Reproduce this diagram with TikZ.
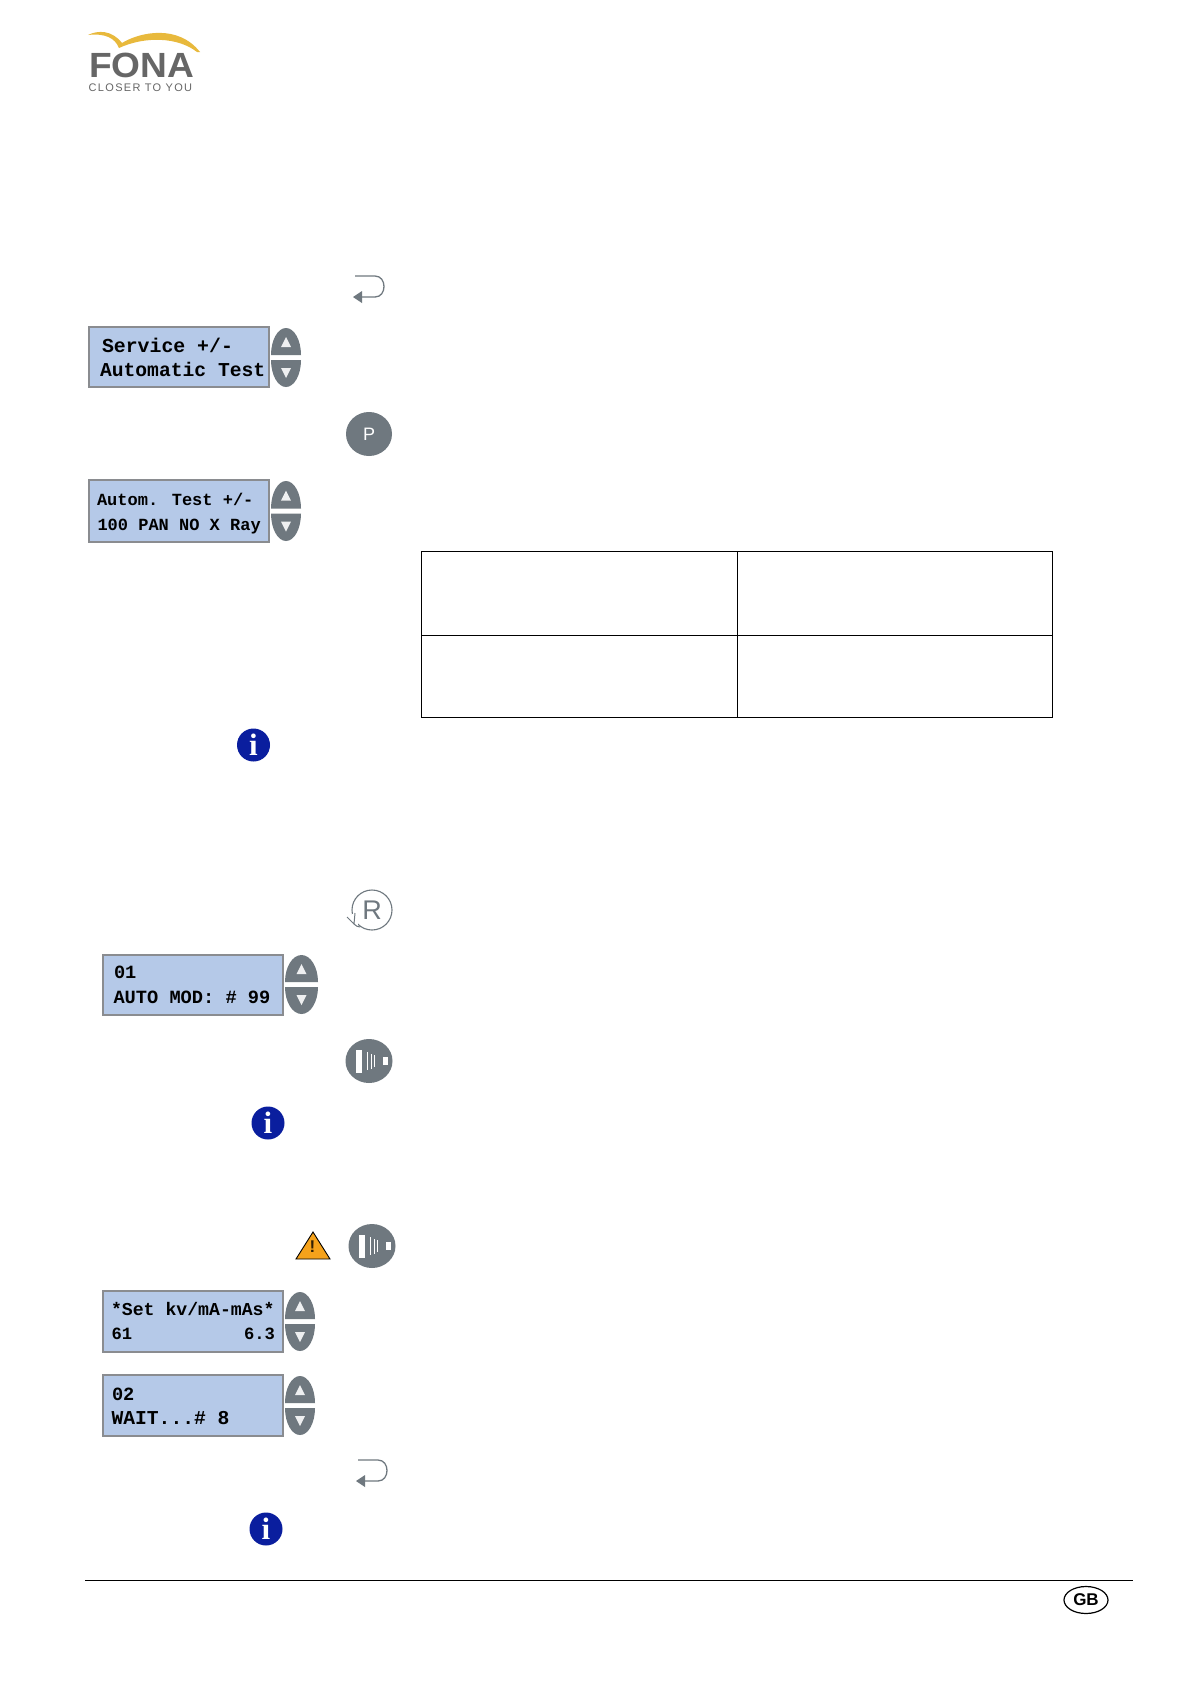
\documentclass[tikz,border=0pt]{standalone}
\usepackage{fontspec}
\setmainfont{Liberation Sans}
\newfontfamily\lcdfont{Liberation Mono}[BoldFont={Liberation Mono Bold}]
\newfontfamily\spacedfont{Liberation Sans}[LetterSpace=12]
\newfontfamily\infofont{Liberation Serif}
\definecolor{lcdfill}{HTML}{B5C9E8}
\definecolor{lcdedge}{HTML}{8A8C90}
\definecolor{btn}{HTML}{6F787F}
\definecolor{infoblue}{HTML}{0A1E9E}
\definecolor{swoosh}{HTML}{E8B93C}
\definecolor{logogray}{HTML}{666666}
\definecolor{warn}{HTML}{F5A21B}
\tikzset{
  lcdbox/.style={fill=lcdfill,draw=lcdedge,line width=1.8pt,inner sep=0pt,outer sep=0pt},
  lcdtext/.style={anchor=base west,inner sep=0pt,outer sep=0pt,text=black,font=\lcdfont\bfseries},
  iconline/.style={draw=btn,line width=1.3pt},
  roundbtn/.style={ellipse,fill=btn,inner sep=0pt,outer sep=0pt},
  infobadge/.style={circle,fill=infoblue,inner sep=0pt,outer sep=0pt,minimum size=33pt,text=white},
}
\usetikzlibrary{shapes.geometric}
\newcommand\lcdpanel[5]{\node[lcdbox,minimum width={(#4-#2)*1pt},minimum height={(#5-#3)*1pt}] (#1) at ({(#2+#4)/2},{(#3+#5)/2}) {};}
% char width -> font size for the 0.6 em mono
\newcommand\lcdline[5]{\pgfmathsetmacro\fsz{#4/0.6}\node[lcdtext,font=\lcdfont\bfseries\fontsize{\fsz}{\fsz}\selectfont] (#1) at (#2,#3) {#5};}
\newcommand\updown[4]{%
  \pgfmathsetmacro\xc{(#1+#2)/2}\pgfmathsetmacro\rx{(#2-#1)/2}\pgfmathsetmacro\ym{(#3+#4)/2}%
  \pgfmathsetmacro\yt{\ym-2.5}\pgfmathsetmacro\yb{\ym+2.5}\pgfmathsetmacro\ry{\yt-#3}%
  \fill[btn] (#1,\yt) arc[start angle=180,end angle=0,x radius=\rx pt,y radius=\ry pt] -- cycle;
  \fill[btn] (#1,\yb) arc[start angle=180,end angle=360,x radius=\rx pt,y radius=\ry pt] -- cycle;
  \fill[white!88!btn] (\xc,\yt-18) -- (\xc+5,\yt-8) -- (\xc-5,\yt-8) -- cycle;
  \fill[white!88!btn] (\xc,\yb+18) -- (\xc+5,\yb+8) -- (\xc-5,\yb+8) -- cycle;
}
\newcommand\returnicon[3]{%
  \begin{scope}[shift={(#2,#3)}]
    \coordinate (#1) at (0,0);
    \draw[iconline] (2,0) -- (22,0) .. controls (34,0) and (34,21) .. (22,21) -- (8,21);
    \fill[btn] (0,21) -- (9,15) -- (9,27) -- cycle;
  \end{scope}}
\newcommand\xrayicon[3]{%
  \node[roundbtn,minimum width=47pt,minimum height=44pt] (#1) at (#2,#3) {};
  \begin{scope}[shift={(#2,#3)}]
    \fill[white] (-13,-11.5) rectangle (-7,11.5);
    \fill[white] (-2.2,-9) rectangle (-0.8,9);
    \fill[white] (1.6,-7.5) rectangle (2.8,7.5);
    \fill[white] (5.2,-6) rectangle (6.2,6);
    \fill[white] (13.5,-3.8) rectangle (19,3.8);
  \end{scope}}
\newcommand\infoicon[3]{\node[infobadge,font=\infofont\bfseries\fontsize{31}{31}\selectfont] (#1) at (#2,#3) {i};}
\begin{document}
\begin{tikzpicture}[x=1pt,y=-1pt]
\useasboundingbox (0,0) rectangle (1191,1684);
\fill[white] (0,0) rectangle (1191,1684);
% logo
\fill[swoosh] (88,35) .. controls (98,30) and (112,30) .. (122,43)
  .. controls (140,32) and (178,24) .. (200,52) -- (197,52)
  .. controls (178,37) and (145,36) .. (119,48)
  .. controls (115,38) and (105,33) .. (88,35) -- cycle;
\node[anchor=base west,inner sep=0pt,text=logogray,xscale=1.06,font=\bfseries\fontsize{35}{35}\selectfont] (fona) at (89,77) {FONA};
\node[anchor=base west,inner sep=0pt,text=logogray,font=\spacedfont\fontsize{11}{11}\selectfont] (tag) at (88.5,91.5) {CLOSER TO YOU};
% first block
\returnicon{retA}{353}{276}
\lcdpanel{lcdA}{89}{327}{269}{387}
\updown{271}{301}{328}{387}
\lcdline{a1}{102}{352}{11.9}{Service  +/-}
\lcdline{a2}{100}{376}{11.8}{Automatic Test}
\node[roundbtn,minimum width=46pt,minimum height=44pt,text=white,font=\fontsize{18}{18}\selectfont] (pbtn) at (369,434) {P};
\lcdpanel{lcdB}{89}{480}{269}{542}
\updown{271}{301}{481}{541}
\lcdline{b1}{97}{505}{10.2}{Autom. Test +/-}
\lcdline{b2}{97.5}{530}{10.2}{100 PAN NO X Ray}
% table
\draw[black,line width=1pt] (421,551) rectangle (1052,717);
\draw[black,line width=1pt] (737,551) -- (737,717);
\draw[black,line width=1pt] (421,635) -- (1052,635);
\infoicon{infoA}{253.5}{745}
% second block
\node[circle,draw=btn,line width=1.1pt,minimum size=40pt,inner sep=0pt,text=btn,font=\fontsize{27}{27}\selectfont] (rbtn) at (372,910) {R};
\fill[white] (352,914) rectangle (358,925);
\draw[btn,line width=1pt] (347,917) -- (354,924) -- (355,913);
\draw[btn,line width=1pt] (354,924) .. controls (356,926) and (358,927) .. (360,927);
\lcdpanel{lcdC}{103}{955}{283}{1015}
\updown{285}{318}{955}{1014}
\lcdline{c1}{114}{978}{11.2}{01}
\lcdline{c2}{113.5}{1003}{11.2}{AUTO MOD: \# 99}
\xrayicon{xrayA}{369}{1061}
\infoicon{infoB}{268}{1123}
% third block
\fill[warn,draw=black,line width=0.9pt,line join=miter] (313,1232) -- (330,1259) -- (296,1259) -- cycle;
\node[inner sep=0pt,text=black!80!warn,font=\bfseries\fontsize{17}{17}\selectfont] (warnmark) at (312.5,1247) {!};
\xrayicon{xrayB}{372}{1246}
\lcdpanel{lcdD}{103}{1291}{283}{1352}
\updown{285}{315}{1292}{1351}
\lcdline{d1}{111}{1315}{10.9}{*Set kv/mA-mAs*}
\lcdline{d2}{111.5}{1339}{10.3}{61}
\lcdline{d3}{244}{1339}{10.3}{6.3}
\lcdpanel{lcdE}{103}{1375}{283}{1436}
\updown{285}{315}{1376}{1435}
\lcdline{e1}{112}{1400}{11.2}{02}
\lcdline{e2}{111.5}{1424}{11.8}{WAIT...\# 8}
\returnicon{retB}{356}{1460}
\infoicon{infoC}{266}{1529}
% footer
\draw[black,line width=1pt] (85,1580) -- (1133,1580);
\node[ellipse,draw=black,line width=1.2pt,minimum width=44pt,minimum height=27pt,inner sep=0pt,font=\bfseries\fontsize{17}{17}\selectfont] (gb) at (1086,1600) {GB};
\end{tikzpicture}
\end{document}
